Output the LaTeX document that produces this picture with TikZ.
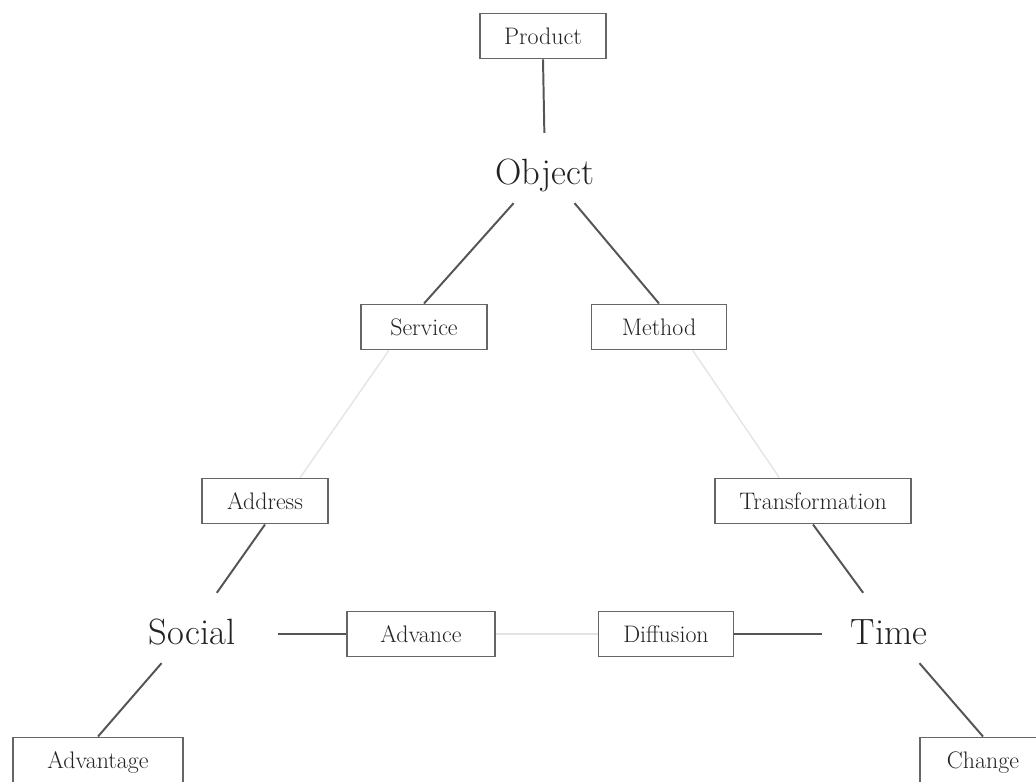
\documentclass[tikz,border=0pt]{standalone}
\usepackage{xcolor}

\definecolor{inkgray}{HTML}{222222}
\definecolor{boxgray}{HTML}{666666}
\definecolor{linegray}{HTML}{555555}
\definecolor{faintgray}{HTML}{E4E4E4}

\tikzset{
	term/.style={draw=boxgray, line width=1.4pt, fill=white, text=inkgray,
		font=\fontsize{17}{20}\selectfont, minimum height=32pt, minimum width=89pt,
		inner xsep=17pt, text height=13pt, text depth=1pt},
	concept/.style={text=inkgray, font=\fontsize{26}{30}\selectfont,
		text height=28pt, text depth=4pt, inner xsep=20pt, inner ysep=8.8pt},
	link/.style={draw=linegray, line width=1.4pt},
	faint/.style={draw=faintgray, line width=1pt}
}

\begin{document}
\begin{tikzpicture}[x=0.025cm, y=-0.025cm]

\useasboundingbox (0,0) rectangle (1036,781);
\clip (0,0) rectangle (1036,781);

% corners
\node[concept] (Object) at (545,168) {Object};
\node[concept, inner xsep=30pt] (Social) at (192,628) {Social};
\node[concept] (Time) at (889,628) {Time};

% boxes
\node[term] (Product) at (543,36) {Product};
\node[term] (Service) at (424,327) {Service};
\node[term, minimum width=96pt] (Method) at (659,327) {Method};
\node[term] (Address) at (265,501) {Address};
\node[term] (Transformation) at (813,501) {Transformation};
\node[term, minimum width=105pt] (Advance) at (421,634) {Advance};
\node[term, minimum width=96pt] (Diffusion) at (666,634) {Diffusion};
\node[term, minimum width=121pt] (Advantage) at (98,760) {Advantage};
\node[term] (Change) at (983,760) {Change};

% strong links
\draw[link] (Product.south) -- (Object);
\draw[link] (Object) -- (Service.north);
\draw[link] (Object) -- (Method.north);
\draw[link] (Address.south) -- (Social);
\draw[link] (Transformation.south) -- (Time);
\draw[link] (Social.east |- Advance) -- (Advance.west);
\draw[link] (Diffusion.east) -- (Time.west |- Diffusion);
\draw[link] (Social) -- (Advantage.north);
\draw[link] (Time) -- (Change.north);

% faint links
\draw[faint] ([xshift=-25pt]Service.south) -- ([xshift=25pt]Address.north);
\draw[faint] ([xshift=24pt]Method.south) -- ([xshift=-24pt]Transformation.north);
\draw[faint] (Advance.east) -- (Diffusion.west);

\end{tikzpicture}
\end{document}
